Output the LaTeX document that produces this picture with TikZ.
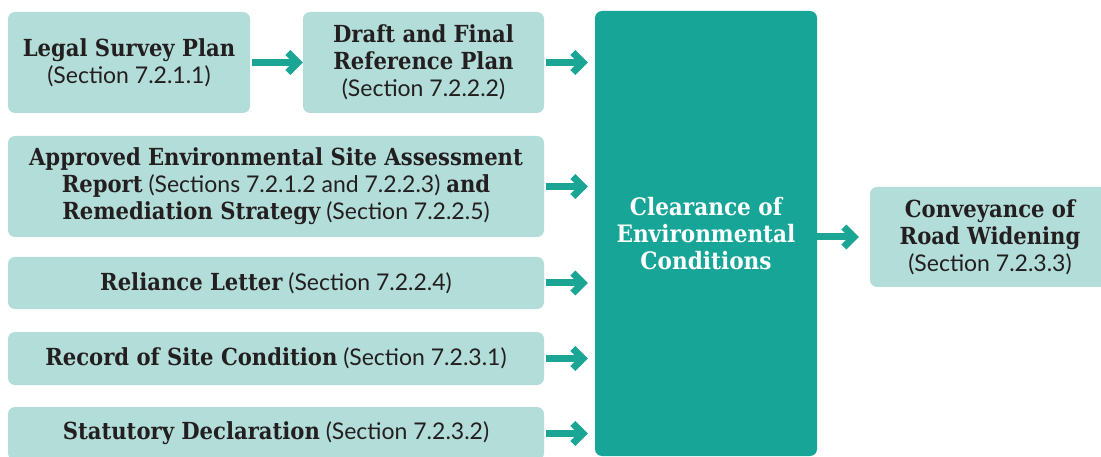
\documentclass[tikz,border=0pt]{standalone}
\usepackage{fontspec}
\usepackage{xcolor}
\usetikzlibrary{arrows.meta}

\setmainfont{Lato}
\newfontfamily\slabfont{DejaVu Serif Condensed}
\newcommand{\ttl}[1]{{\slabfont\bfseries\fontsize{23.5}{27}\selectfont #1}}

\definecolor{paleteal}{HTML}{B3DDD8}
\definecolor{deepteal}{HTML}{17A597}
\definecolor{arrowteal}{HTML}{1BA595}
\definecolor{ink}{HTML}{231F20}

\begin{document}
\begin{tikzpicture}[x=1pt, y=-1pt,
  inbox/.style={fill=paleteal, rounded corners=7pt, align=center, text=ink, inner sep=0pt,
    font={\fontsize{23}{27}\selectfont}},
  flow/.style={arrowteal, line width=7pt, -{Straight Barb[length=10pt, width=20pt]}}]
\useasboundingbox (0,0) rectangle (1101,457);
\clip (0,0) rectangle (1101,457);
\node[inbox, minimum width=242, minimum height=101] (legal) at (129,62.5) {\ttl{Legal Survey Plan}\\(Section 7.2.1.1)};
\node[inbox, minimum width=241, minimum height=101] (draft) at (423.5,62.5) {\ttl{Draft and Final}\\\ttl{Reference Plan}\\(Section 7.2.2.2)};
\node[inbox, minimum width=536, minimum height=101] (esa) at (276,186.5) {\ttl{Approved Environmental Site Assessment}\\\ttl{Report} (Sections 7.2.1.2 and 7.2.2.3) \ttl{and}\\\ttl{Remediation Strategy} (Section 7.2.2.5)};
\node[inbox, minimum width=536, minimum height=52] (reliance) at (276,283) {\ttl{Reliance Letter} (Section 7.2.2.4)};
\node[inbox, minimum width=536, minimum height=53] (record) at (276,358.5) {\ttl{Record of Site Condition} (Section 7.2.3.1)};
\node[inbox, minimum width=536, minimum height=53] (statutory) at (276,433.5) {\ttl{Statutory Declaration} (Section 7.2.3.2)};
\node[fill=deepteal, rounded corners=7pt, minimum width=222, minimum height=445, inner sep=0pt, align=center, text=white,
  font={\slabfont\bfseries\fontsize{24}{27}\selectfont}] (clearance) at (706,233.5) {Clearance of\\Environmental\\Conditions};
\node[inbox, minimum width=240, minimum height=100] (conveyance) at (990,237) {\ttl{Conveyance of}\\\ttl{Road Widening}\\(Section 7.2.3.3)};
\draw[flow, shorten <=2pt] (legal.east) -- (draft.west);
\draw[flow, shorten <=2pt, shorten >=7pt] (draft.east) -- (draft.east -| clearance.west);
\draw[flow, shorten <=2pt, shorten >=7pt] (esa.east) -- (esa.east -| clearance.west);
\draw[flow, shorten <=2pt, shorten >=7pt] (reliance.east) -- (reliance.east -| clearance.west);
\draw[flow, shorten <=2pt, shorten >=7pt] (record.east) -- (record.east -| clearance.west);
\draw[flow, shorten <=2pt, shorten >=7pt] (statutory.east) -- (statutory.east -| clearance.west);
\draw[flow, shorten >=11pt] (clearance.east |- conveyance.west) -- (conveyance.west);
\end{tikzpicture}
\end{document}
